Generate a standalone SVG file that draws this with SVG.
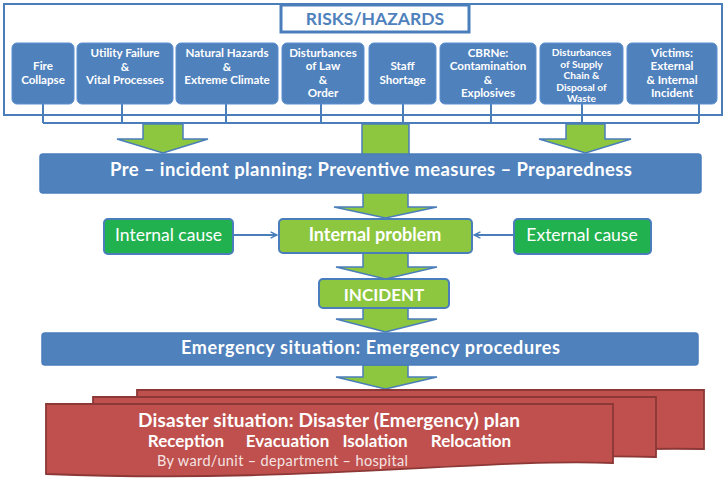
<svg xmlns="http://www.w3.org/2000/svg" width="728" height="481" viewBox="0 0 728 481">
<defs>
<style>
.t{font-family:Lato,"Liberation Sans",Arial,sans-serif;fill:#fff;font-weight:bold;text-anchor:middle}
.s{font-size:11.6px}
.s2{font-size:10.2px}
.hz{fill:#4f81bd;stroke:#5b8fd0;stroke-width:1}
.ln{fill:none;stroke:#4a7ebb;stroke-width:2}
.ga{fill:#8dc63f;stroke:#4a7ebb;stroke-width:1.5;stroke-linejoin:miter}
.bb{fill:#4f81bd;stroke:#4a7ebb;stroke-width:1.5}
.lg{fill:#8dc63f;stroke:#4a7ebb;stroke-width:2}
.dg{fill:#21b24f;stroke:#4a7ebb;stroke-width:2}
.rd{fill:#c0504d;stroke:#8c3836;stroke-width:1.8}
</style>
<marker id="ah" viewBox="0 0 10 10" refX="9" refY="5" markerWidth="8" markerHeight="8" markerUnits="userSpaceOnUse" orient="auto">
<path d="M1,1 L9,5 L1,9" fill="none" stroke="#4a7ebb" stroke-width="1.8"/>
</marker>
</defs>
<rect width="728" height="481" fill="#fff"/>

<g id="connectors">
<rect x="4" y="4" width="718" height="111" class="ln" stroke-width="2.5"/>
<path class="ln" d="M43,104V123M122,104V123M226,104V123M321,104V123M403,104V123M491,104V123M582,104V123M699,104V123M43,123H699"/>
<path class="ga" d="M143,124H183V139H208L163,153L117,139H143Z"/>
<path class="ga" d="M362,124H409V158H362Z"/>
<path class="ga" d="M566,124H605V139H631L585.5,153L539,139H566Z"/>
<path class="ga" d="M363,192H408V207H437L385.5,218L334,207H363Z"/>
<path class="ga" d="M363,253H408V267H437L385.5,279L336,267H363Z"/>
<path class="ga" d="M363,308H408V319H437L385.5,332L336,319H363Z"/>
<path class="ga" d="M363,365H408V377H437L385.5,389L336,377H363Z"/>
<line x1="233" y1="235" x2="277" y2="235" class="ln" marker-end="url(#ah)"/>
<line x1="514" y1="235" x2="474" y2="235" class="ln" marker-end="url(#ah)"/>
</g>

<g id="risks">
<rect x="281" y="5" width="188" height="27" fill="#fff" stroke="#4a7ebb" stroke-width="3"/>
<text x="375" y="25" class="t" style="fill:#4f81bd;font-size:17.5px">RISKS/HAZARDS</text>
</g>

<g id="h1"><rect x="12" y="43" width="62" height="61" rx="5" class="hz"/>
<text class="t s" x="43" y="70">Fire</text><text class="t s" x="43" y="84">Collapse</text></g>
<g id="h2"><rect x="77" y="43" width="96" height="61" rx="5" class="hz"/>
<text class="t s" x="125" y="57">Utility Failure</text><text class="t s" x="125" y="71">&amp;</text><text class="t s" x="125" y="84">Vital Processes</text></g>
<g id="h3"><rect x="176" y="43" width="102" height="61" rx="5" class="hz"/>
<text class="t s" x="227" y="57">Natural Hazards</text><text class="t s" x="227" y="71">&amp;</text><text class="t s" x="227" y="84">Extreme Climate</text></g>
<g id="h4"><rect x="282" y="43" width="82" height="61" rx="5" class="hz"/>
<text class="t s" x="323" y="57">Disturbances</text><text class="t s" x="323" y="70">of Law</text><text class="t s" x="323" y="84">&amp;</text><text class="t s" x="323" y="97">Order</text></g>
<g id="h5"><rect x="369" y="43" width="67" height="61" rx="5" class="hz"/>
<text class="t s" x="402.5" y="70">Staff</text><text class="t s" x="402.5" y="84">Shortage</text></g>
<g id="h6"><rect x="440" y="43" width="96" height="61" rx="5" class="hz"/>
<text class="t s" x="488" y="57">CBRNe:</text><text class="t s" x="488" y="70">Contamination</text><text class="t s" x="488" y="84">&amp;</text><text class="t s" x="488" y="97">Explosives</text></g>
<g id="h7"><rect x="540" y="43" width="83" height="61" rx="5" class="hz"/>
<text class="t s2" x="581.5" y="55.5">Disturbances</text><text class="t s2" x="581.5" y="67.5">of Supply</text><text class="t s2" x="581.5" y="78.5">Chain &amp;</text><text class="t s2" x="581.5" y="90.5">Disposal of</text><text class="t s2" x="581.5" y="102">Waste</text></g>
<g id="h8"><rect x="627" y="43" width="90" height="61" rx="5" class="hz"/>
<text class="t s" x="672" y="57">Victims:</text><text class="t s" x="672" y="70">External</text><text class="t s" x="672" y="84">&amp; Internal</text><text class="t s" x="672" y="97">Incident</text></g>

<g id="preincident"><rect x="40" y="154" width="661" height="39" rx="3" class="bb"/>
<text class="t" x="371" y="175.5" style="font-size:18.5px" textLength="522">Pre – incident planning: Preventive measures – Preparedness</text></g>

<g id="internalcause"><rect x="104" y="219" width="129" height="35" rx="4" class="dg"/>
<text class="t" x="168.5" y="240.5" style="font-size:17.5px;font-weight:normal">Internal cause</text></g>
<g id="internalproblem"><rect x="279" y="219" width="193" height="34" rx="4" class="lg"/>
<text class="t" x="375" y="240.5" style="font-size:18px">Internal problem</text></g>
<g id="externalcause"><rect x="514" y="219" width="137" height="35" rx="4" class="dg"/>
<text class="t" x="582" y="240.5" style="font-size:17.5px;font-weight:normal">External cause</text></g>

<g id="incident"><rect x="319" y="279" width="130" height="29" rx="4" class="lg"/>
<text class="t" x="384" y="300.5" style="font-size:17px">INCIDENT</text></g>

<g id="emergency"><rect x="42" y="333" width="656" height="32" rx="3" class="bb"/>
<text class="t" x="370.5" y="353.5" style="font-size:18px" textLength="379">Emergency situation: Emergency procedures</text></g>

<g id="disaster">
<path class="rd" d="M137,390H704V449C560,446 400,462 137,458Z"/>
<path class="rd" d="M93,397H656V457C520,453 350,470 93,466Z"/>
<path class="rd" d="M46,404H613V463C480,458 300,484 46,474Z"/>
<text class="t" x="329" y="426.5" style="font-size:19px" textLength="382">Disaster situation: Disaster (Emergency) plan</text>
<text class="t" x="186" y="446.5" style="font-size:17px">Reception</text>
<text class="t" x="287.5" y="446.5" style="font-size:17px">Evacuation</text>
<text class="t" x="375" y="446.5" style="font-size:17px">Isolation</text>
<text class="t" x="471" y="446.5" style="font-size:17px">Relocation</text>
<text class="t" x="282.5" y="466" style="font-size:14.5px;font-weight:normal;fill:#f4e4e4" textLength="251">By ward/unit – department – hospital</text>
</g>
</svg>
